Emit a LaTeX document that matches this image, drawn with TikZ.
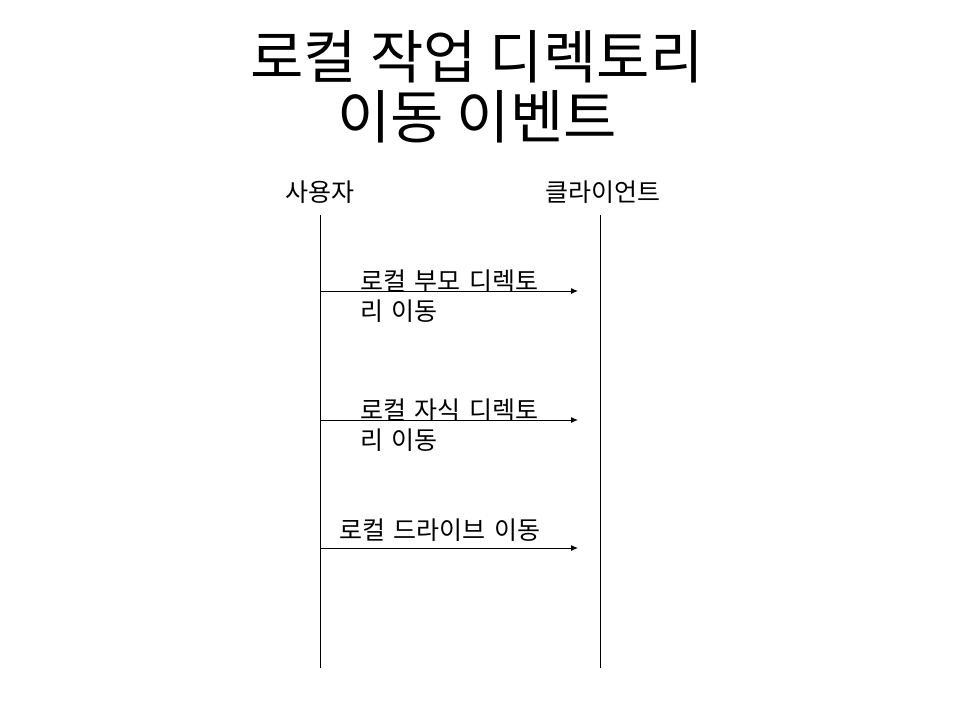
\documentclass[tikz,border=0pt]{standalone}
\usepackage{fontspec}
\setmainfont{Noto Sans CJK KR}
\newfontfamily\msgfont[WordSpace=1.5]{Noto Sans CJK KR}
\usetikzlibrary{arrows.meta}
\begin{document}
\begin{tikzpicture}[x=1pt,y=-1pt,
  lifeline/.style={draw=black,line width=1pt},
  msg/.style={draw=black,line width=1pt,-{Latex[length=7pt,width=6pt]}},
  actor/.style={font=\fontsize{25}{28}\selectfont,inner sep=0pt},
  msglabel/.style={font=\msgfont\fontsize{25}{30}\selectfont,inner sep=0pt,align=left},
  titletext/.style={font=\fontsize{58}{60}\selectfont,inner sep=0pt,align=center}]
\path[use as bounding box,fill=white] (0,0) rectangle (960,720);
\node[titletext] (title) at (477,87) {로컬 작업 디렉토리\\이동 이벤트};
\node[actor] (user) at (320,192) {사용자};
\node[actor] (client) at (603,192) {클라이언트};
\coordinate (u0) at (320,215);
\coordinate (u1) at (320,668);
\coordinate (c0) at (600,215);
\coordinate (c1) at (600,668);
\draw[lifeline] (u0) -- (u1);
\draw[lifeline] (c0) -- (c1);
\coordinate (a1s) at (320,291);
\coordinate (a1e) at (578,291);
\coordinate (a2s) at (320,420);
\coordinate (a2e) at (578,420);
\coordinate (a3s) at (320,548);
\coordinate (a3e) at (578,548);
\draw[msg] (a1s) -- (a1e);
\draw[msg] (a2s) -- (a2e);
\draw[msg] (a3s) -- (a3e);
\node[msglabel,anchor=west] (l1) at (360,296) {로컬 부모 디렉토\\리 이동};
\node[msglabel,anchor=west] (l2) at (360,425) {로컬 자식 디렉토\\리 이동};
\node[msglabel,anchor=west] (l3) at (339,530) {로컬 드라이브 이동};
\end{tikzpicture}
\end{document}
